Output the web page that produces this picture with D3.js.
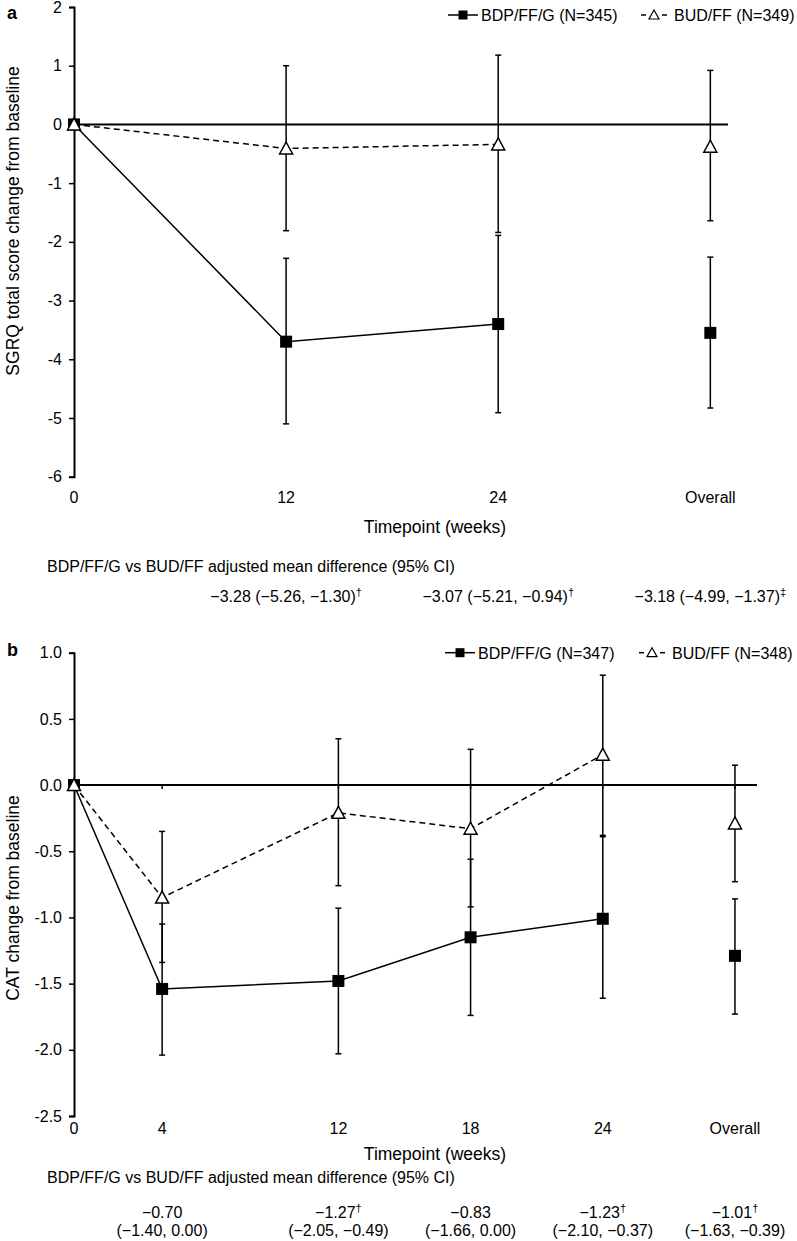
<!DOCTYPE html>
<html>
<head>
<meta charset="utf-8">
<script src="https://cdn.jsdelivr.net/npm/d3@7"></script>
<style>
  html, body { margin: 0; padding: 0; background: #fff; }
  svg { display: block; }
  text { font-family: "Liberation Sans", Arial, sans-serif; fill: #000; }
</style>
</head>
<body>
<svg id="chart" width="797" height="1241"></svg>
<script>
// ---------- Panel a data (SGRQ) ----------
const catsA = ["0", "12", "24", "Overall"];
const weeksA = [0, 12, 24, 36];
const bdpA = [0, -3.70, -3.40, -3.55];
const bdpA_upper = [null, -2.28, -1.89, -2.26];
const bdpA_lower = [null, -5.10, -4.91, -4.83];
const budA = [0, -0.41, -0.34, -0.38];
const budA_upper = [null, 1.00, 1.18, 0.92];
const budA_lower = [null, -1.81, -1.84, -1.64];
const ticksA = [2, 1, 0, -1, -2, -3, -4, -5, -6];
const diffA = ["\u22123.28 (\u22125.26, \u22121.30)", "\u22123.07 (\u22125.21, \u22120.94)", "\u22123.18 (\u22124.99, \u22121.37)"];
const diffA_sup = ["\u2020", "\u2020", "\u2021"];
const diffA_weeks = [12, 24, 36];

// ---------- Panel b data (CAT) ----------
const catsB = ["0", "4", "12", "18", "24", "Overall"];
const weeksB = [0, 4, 12, 18, 24, 30];
const bdpB = [0, -1.54, -1.48, -1.15, -1.01, -1.29];
const bdpB_upper = [null, -1.05, -0.93, -0.56, -0.39, -0.86];
const bdpB_lower = [null, -2.04, -2.03, -1.74, -1.61, -1.73];
const budB = [0, -0.85, -0.21, -0.33, 0.23, -0.29];
const budB_upper = [null, -0.35, 0.35, 0.27, 0.83, 0.15];
const budB_lower = [null, -1.34, -0.76, -0.92, -0.38, -0.73];
const ticksB = [1.0, 0.5, 0.0, -0.5, -1.0, -1.5, -2.0, -2.5];
const diffB_est = ["\u22120.70", "\u22121.27", "\u22120.83", "\u22121.23", "\u22121.01"];
const diffB_sup = ["", "\u2020", "", "\u2020", "\u2020"];
const diffB_ci = ["(\u22121.40, 0.00)", "(\u22122.05, \u22120.49)", "(\u22121.66, 0.00)", "(\u22122.10, \u22120.37)", "(\u22121.63, \u22120.39)"];
const diffB_weeks = [4, 12, 18, 24, 30];

const svg = d3.select("#chart");

function triPath(s) {
  const h = s / 2;
  return `M0,${-h} L${h},${h - 1} L${-h},${h - 1} Z`;
}

function drawPanel(cfg) {
  const g = svg.append("g");
  const x = d3.scaleLinear().domain(cfg.xDomain).range(cfg.xRange);
  const y = d3.scaleLinear().domain(cfg.yDomain).range(cfg.yRange);

  // y axis
  const ax = g.append("g").attr("transform", `translate(${cfg.xRange[0]},0)`)
    .call(d3.axisLeft(y).tickValues(cfg.ticks).tickSize(5).tickPadding(7).tickFormat(cfg.fmt));
  ax.select(".domain").attr("stroke", "#000").attr("stroke-width", 2);
  ax.selectAll(".tick line").attr("stroke", "#000").attr("stroke-width", 1.5);
  ax.selectAll(".tick text").attr("font-size", 16).attr("font-family", '"Liberation Sans", Arial, sans-serif').attr("fill", "#000");

  // zero line
  g.append("line").attr("x1", x(cfg.xDomain[0])).attr("x2", x(cfg.xDomain[1]))
    .attr("y1", y(0)).attr("y2", y(0)).attr("stroke", "#000").attr("stroke-width", 2);
  if (cfg.zeroTicks) {
    g.selectAll(".zt").data(cfg.weeks.slice(1)).enter().append("line")
      .attr("x1", d => x(d)).attr("x2", d => x(d))
      .attr("y1", y(0)).attr("y2", y(0) + 4).attr("stroke", "#000").attr("stroke-width", 1.5);
  }

  // x category labels
  g.selectAll(".xl").data(cfg.cats).enter().append("text")
    .attr("x", (d, i) => x(cfg.weeks[i])).attr("y", cfg.xLabelY)
    .attr("text-anchor", "middle").attr("font-size", 16).text(d => d);

  // x title
  g.append("text").attr("x", 435).attr("y", cfg.xTitleY).attr("text-anchor", "middle")
    .attr("font-size", 17.5).text("Timepoint (weeks)");

  // y title
  g.append("text").attr("transform", `translate(${cfg.yTitleX},${cfg.yTitleY}) rotate(-90)`)
    .attr("text-anchor", "middle").attr("font-size", 17.5).text(cfg.yTitle);

  // panel letter
  g.append("text").attr("x", 7).attr("y", cfg.letterY).attr("font-size", 18).attr("font-weight", "bold").text(cfg.letter);

  const nConn = cfg.weeks.length - 1; // Overall not connected
  const lineGen = d3.line().x(d => x(d[0])).y(d => y(d[1]));
  const bdpPts = cfg.weeks.slice(0, nConn).map((w, i) => [w, cfg.bdp[i]]);
  const budPts = cfg.weeks.slice(0, nConn).map((w, i) => [w, cfg.bud[i]]);
  g.append("path").attr("d", lineGen(bdpPts)).attr("fill", "none").attr("stroke", "#000").attr("stroke-width", 1.5);
  g.append("path").attr("d", lineGen(budPts)).attr("fill", "none").attr("stroke", "#000").attr("stroke-width", 1.5)
    .attr("stroke-dasharray", "6,4");

  // error bars
  function errBars(upper, lower) {
    cfg.weeks.forEach((w, i) => {
      if (upper[i] == null) return;
      const cx = x(w);
      g.append("line").attr("x1", cx).attr("x2", cx).attr("y1", y(upper[i])).attr("y2", y(lower[i]))
        .attr("stroke", "#000").attr("stroke-width", 1.5);
      [upper[i], lower[i]].forEach(v => {
        g.append("line").attr("x1", cx - 3).attr("x2", cx + 3).attr("y1", y(v)).attr("y2", y(v))
          .attr("stroke", "#000").attr("stroke-width", 1.5);
      });
    });
  }
  errBars(cfg.bdpU, cfg.bdpL);
  errBars(cfg.budU, cfg.budL);

  // markers
  g.selectAll(".sq").data(cfg.weeks).enter().append("rect")
    .attr("x", (d) => x(d) - 6).attr("y", (d, i) => y(cfg.bdp[i]) - 6)
    .attr("width", 12).attr("height", 12).attr("fill", "#000");
  g.selectAll(".tri").data(cfg.weeks).enter().append("path")
    .attr("d", triPath(13))
    .attr("transform", (d, i) => `translate(${x(d)},${y(cfg.bud[i])})`)
    .attr("fill", "#fff").attr("stroke", "#000").attr("stroke-width", 1.5);

  // legend
  const L = cfg.legend;
  g.append("line").attr("x1", L.x1).attr("x2", L.x1 + 30).attr("y1", L.y).attr("y2", L.y)
    .attr("stroke", "#000").attr("stroke-width", 1.5);
  g.append("rect").attr("x", L.x1 + 15 - 4.5).attr("y", L.y - 4.5).attr("width", 9).attr("height", 9).attr("fill", "#000");
  g.append("text").attr("x", L.x1 + 33).attr("y", L.y + 6).attr("font-size", 16).text(L.t1);
  g.append("line").attr("x1", L.x2).attr("x2", L.x2 + 5).attr("y1", L.y).attr("y2", L.y).attr("stroke", "#000").attr("stroke-width", 1.5);
  g.append("line").attr("x1", L.x2 + 21).attr("x2", L.x2 + 26).attr("y1", L.y).attr("y2", L.y).attr("stroke", "#000").attr("stroke-width", 1.5);
  g.append("path").attr("d", triPath(10)).attr("transform", `translate(${L.x2 + 13},${L.y})`)
    .attr("fill", "#fff").attr("stroke", "#000").attr("stroke-width", 1.2);
  g.append("text").attr("x", L.x2 + 33).attr("y", L.y + 6).attr("font-size", 16).text(L.t2);

  // comparison title
  g.append("text").attr("x", 47).attr("y", cfg.cmpY).attr("font-size", 16)
    .text("BDP/FF/G vs BUD/FF adjusted mean difference (95% CI)");

  return x;
}

// Panel a
const xA = drawPanel({
  xDomain: [0, 37], xRange: [74, 728],
  yDomain: [-6, 2], yRange: [476.7, 7],
  ticks: ticksA, fmt: d => String(d),
  weeks: weeksA, cats: catsA,
  bdp: bdpA, bdpU: bdpA_upper, bdpL: bdpA_lower,
  bud: budA, budU: budA_upper, budL: budA_lower,
  xLabelY: 503, xTitleY: 533, yTitleX: 19, yTitleY: 221,
  yTitle: "SGRQ total score change from baseline",
  letter: "a", letterY: 19, zeroTicks: false,
  legend: { x1: 448, x2: 641, y: 15, t1: "BDP/FF/G (N=345)", t2: "BUD/FF (N=349)" },
  cmpY: 572
});
const diffGA = svg.append("g");
diffA.forEach((t, i) => {
  const tx = diffGA.append("text").attr("x", xA(diffA_weeks[i])).attr("y", 602)
    .attr("text-anchor", "middle").attr("font-size", 16);
  tx.append("tspan").text(t);
  tx.append("tspan").attr("font-size", 11).attr("dy", -6).text(diffA_sup[i]);
});

// Panel b
const xB = drawPanel({
  xDomain: [0, 31], xRange: [74, 757],
  yDomain: [-2.5, 1.0], yRange: [1116, 652.7],
  ticks: ticksB, fmt: d => d.toFixed(1),
  weeks: weeksB, cats: catsB,
  bdp: bdpB, bdpU: bdpB_upper, bdpL: bdpB_lower,
  bud: budB, budU: budB_upper, budL: budB_lower,
  xLabelY: 1134, xTitleY: 1160, yTitleX: 19, yTitleY: 898,
  yTitle: "CAT change from baseline",
  letter: "b", letterY: 656, zeroTicks: true,
  legend: { x1: 445, x2: 639, y: 652.7, t1: "BDP/FF/G (N=347)", t2: "BUD/FF (N=348)" },
  cmpY: 1183
});
const diffGB = svg.append("g");
diffB_est.forEach((t, i) => {
  const cx = xB(diffB_weeks[i]);
  const tx = diffGB.append("text").attr("x", cx).attr("y", 1218)
    .attr("text-anchor", "middle").attr("font-size", 16);
  tx.append("tspan").text(t);
  if (diffB_sup[i]) tx.append("tspan").attr("font-size", 11).attr("dy", -6).text(diffB_sup[i]);
  diffGB.append("text").attr("x", cx).attr("y", 1236)
    .attr("text-anchor", "middle").attr("font-size", 16).text(diffB_ci[i]);
});
</script>
</body>
</html>
